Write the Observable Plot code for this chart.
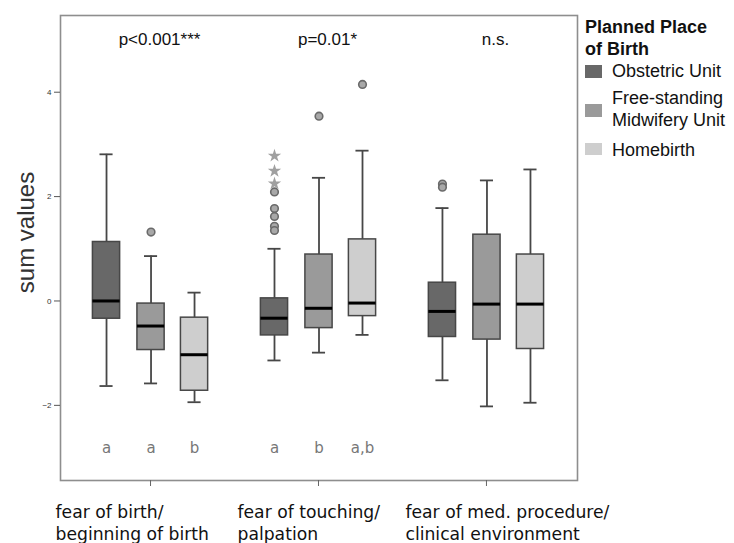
<!DOCTYPE html>
<html><head><meta charset="utf-8">
<script src="https://cdn.jsdelivr.net/npm/d3@7"></script>
<script src="https://cdn.jsdelivr.net/npm/@observablehq/plot@0.6"></script>
<style>
body{margin:0;background:#fff;}
#wrap{position:relative;width:734px;height:543px;font-family:"Liberation Sans",Arial,sans-serif;background:#fff;}
#wrap svg{position:absolute;left:0;top:0;}
.lg{position:absolute;font-size:18px;line-height:22px;white-space:nowrap;color:#111;}
.lgt{font-weight:bold;}
.sw{position:absolute;width:17px;height:12.5px;}
</style></head><body><div id="wrap"></div>
<script>
// ---- data ----
const categories = ["fear of birth/\nbeginning of birth", "fear of touching/\npalpation", "fear of med. procedure/\nclinical environment"];
const groups = ["Obstetric Unit", "Free-standing Midwifery Unit", "Homebirth"];
const legendLines = [["Obstetric Unit"], ["Free-standing", "Midwifery Unit"], ["Homebirth"]];
const groupColors = ["#686868", "#9a9a9a", "#cecece"];
// box statistics, ordered category by category, group by group
const whiskerLow  = [-1.63, -1.58, -1.94, -1.14, -0.99, -0.65, -1.52, -2.02, -1.95];
const q1          = [-0.34, -0.94, -1.72, -0.66, -0.52, -0.29, -0.69, -0.74, -0.92];
const median      = [ 0.00, -0.48, -1.03, -0.33, -0.14, -0.04, -0.20, -0.06, -0.06];
const q3          = [ 1.13, -0.05, -0.32,  0.05,  0.89,  1.18,  0.35,  1.27,  0.89];
const whiskerHigh = [ 2.81,  0.86,  0.16,  1.00,  2.36,  2.88,  1.78,  2.31,  2.52];
// outliers
const outlierCategory = [0, 1, 1, 1, 1, 1, 1, 1, 1, 1, 1, 2, 2];
const outlierGroup    = [1, 0, 0, 0, 0, 0, 0, 0, 0, 1, 2, 0, 0];
const outlierValue    = [1.32, 2.09, 1.77, 1.62, 1.43, 1.35, 2.78, 2.49, 2.25, 3.54, 4.15, 2.24, 2.18];
const outlierExtreme  = [false, false, false, false, false, false, true, true, true, false, false, false, false];
const groupLetters = ["a", "a", "b", "a", "b", "a,b", "", "", ""];
const pValues = ["p<0.001***", "p=0.01*", "n.s."];
const yTicks = [-2, 0, 2, 4];
const yLabel = "sum values";
const legendTitle = ["Planned Place", "of Birth"];

// ---- layout constants ----
const groupOffset = [-0.262, 0.003, 0.262];
const boxHalf = 0.081, capHalf = 0.039;

const boxes = [];
categories.forEach((c, ci) => groups.forEach((g, gi) => {
  const k = ci * groups.length + gi;
  boxes.push({ci, gi, group: g, cx: ci + groupOffset[gi], low: whiskerLow[k], q1: q1[k], median: median[k], q3: q3[k], high: whiskerHigh[k], letter: groupLetters[k]});
}));
const outliers = outlierValue.map((v, i) => ({cx: outlierCategory[i] + groupOffset[outlierGroup[i]], value: v, extreme: outlierExtreme[i]}));
const pRows = pValues.map((p, i) => ({ci: i, p}));
const catRows = categories.map((c, i) => ({ci: i, c}));
const labelDx = [-95, -81, -81];

const dark = "#474747";
const chart = Plot.plot({
  width: 734, height: 543,
  marginLeft: 60, marginRight: 157, marginTop: 15, marginBottom: 63,
  x: {domain: [-0.536, 2.542], axis: null},
  y: {domain: [-3.44, 5.47], axis: null},
  color: {domain: groups, range: groupColors},
  style: {fontFamily: "'Liberation Sans', Arial, sans-serif", background: "#fff", overflow: "visible"},
  marks: [
    Plot.frame({stroke: "#8e8e8e", strokeWidth: 1.6}),
    Plot.axisY({ticks: yTicks, tickSize: 6, tickPadding: 3, fontSize: 8, stroke: "#555", fill: "#333", label: null}),
    Plot.axisX({ticks: [0, 1, 2], tickSize: 6, tickFormat: () => "", stroke: "#666", label: null}),
    Plot.ruleX(boxes, {x: "cx", y1: "q3", y2: "high", stroke: dark, strokeWidth: 1.8}),
    Plot.ruleX(boxes, {x: "cx", y1: "low", y2: "q1", stroke: dark, strokeWidth: 1.8}),
    Plot.ruleY(boxes, {y: "high", x1: d => d.cx - capHalf, x2: d => d.cx + capHalf, stroke: dark, strokeWidth: 1.8}),
    Plot.ruleY(boxes, {y: "low", x1: d => d.cx - capHalf, x2: d => d.cx + capHalf, stroke: dark, strokeWidth: 1.8}),
    Plot.rect(boxes, {x1: d => d.cx - boxHalf, x2: d => d.cx + boxHalf, y1: "q1", y2: "q3", fill: "group", stroke: dark, strokeWidth: 1.5}),
    Plot.ruleY(boxes, {y: "median", x1: d => d.cx - boxHalf, x2: d => d.cx + boxHalf, stroke: "#000", strokeWidth: 3}),
    Plot.dot(outliers.filter(d => !d.extreme), {x: "cx", y: "value", r: 3.8, stroke: "#6a6a6a", fill: "#a8a8a8", strokeWidth: 1.6}),
    Plot.dot(outliers.filter(d => d.extreme), {x: "cx", y: "value", r: 4.2, symbol: "star", fill: "#a0a0a0", stroke: "none"}),
    Plot.text(boxes, {x: "cx", y: () => -2.83, text: "letter", fontFamily: "'DejaVu Sans', sans-serif", fontSize: 15, fill: "#777"}),
    Plot.text(pRows, {x: "ci", y: () => 5.0, text: "p", dx: 9, fontSize: 17, fill: "#111"}),
    ...catRows.map((r, i) => Plot.text([r], {x: "ci", frameAnchor: "bottom", text: "c", textAnchor: "start", lineAnchor: "top", dx: labelDx[i], dy: 21.5, lineHeight: 1.29, fontFamily: "'DejaVu Sans', sans-serif", fontSize: 17.2, fill: "#111"})),
    Plot.text([yLabel], {frameAnchor: "left", text: d => d, rotate: -90, textAnchor: "middle", lineAnchor: "bottom", dx: -27, dy: -15.5, fontSize: 24, fill: "#333"})
  ]
});
const wrap = document.getElementById("wrap");
wrap.appendChild(chart);

// ---- legend (HTML, colours from the plot's color scale) ----
const colorScale = chart.scale("color");
function addText(txt, left, baseline, cls) {
  const d = document.createElement("div");
  d.className = "lg " + (cls || "");
  d.textContent = txt;
  d.style.left = left + "px";
  d.style.top = (baseline - 17.3) + "px";
  wrap.appendChild(d);
}
const titleBaselines = [33.3, 55];
legendTitle.forEach((t, i) => addText(t, 585, titleBaselines[i], "lgt"));
const itemBaselines = [[77.3], [104, 126.7], [156]];
const swatchTops = [65, 104, 142.7];
colorScale.domain.forEach((g, i) => {
  const s = document.createElement("div");
  s.className = "sw";
  s.style.left = "585px";
  s.style.top = swatchTops[i] + "px";
  s.style.background = colorScale.range[i];
  wrap.appendChild(s);
  legendLines[i].forEach((line, j) => addText(line, 612, itemBaselines[i][j]));
});
</script></body></html>
